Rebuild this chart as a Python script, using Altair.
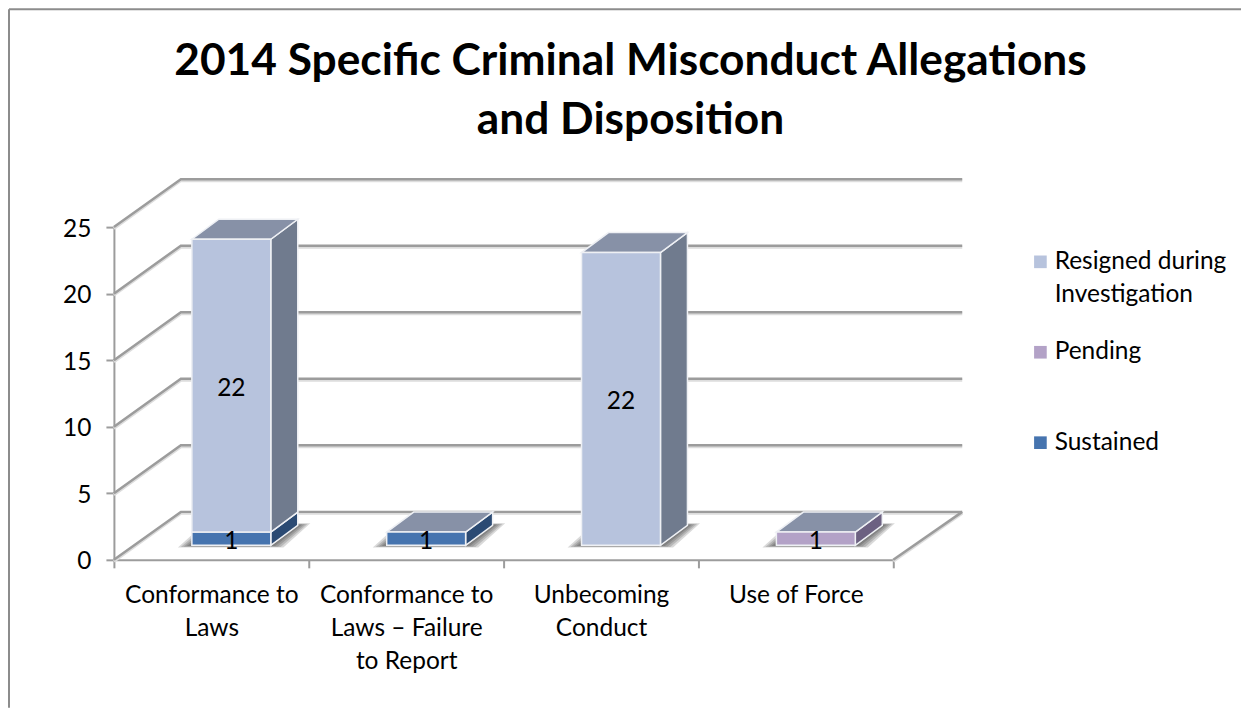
import json
import altair as alt
import pandas as pd

categories = ["Conformance to Laws", "Conformance to Laws – Failure to Report", "Unbecoming Conduct", "Use of Force"]
category_lines = [["Conformance to", "Laws"], ["Conformance to", "Laws – Failure", "to Report"], ["Unbecoming", "Conduct"], ["Use of Force"], [""]]
series_names = ["Resigned during Investigation", "Pending", "Sustained"]
sustained = [1, 1, 0, 0]
pending = [0, 0, 0, 1]
resigned = [22, 0, 22, 0]
y_ticks = [0, 5, 10, 15, 20, 25]
title_lines = ["2014 Specific Criminal Misconduct Allegations", "and Disposition"]

FONT = "Lato"
FS = 24.5
LINE = "#9c9c9c"
UX, UY = 195.0, 13.32            # pixels per category / per value unit
WALL_X, WALL_Y = 67 / UX, 48 / UY  # depth of the chart box
WALL_R = 69 / UX
DEP_X, DEP_Y = 27 / UX, 20 / UY    # depth of a bar
BAR_W = 79 / UX
BAR_X0 = (192 - 114) / UX
BAR_Y0 = 14.5 / UY

front_colors = {"Resigned during Investigation": "#b7c3dd", "Pending": "#b3a2c7", "Sustained": "#4674af"}
side_colors = {"Resigned during Investigation": "#707b8e", "Pending": "#6c6181", "Sustained": "#2b4a73"}
top_color = "#8791a7"

# stack order, bottom first
stack = [("Sustained", sustained), ("Pending", pending), ("Resigned during Investigation", resigned)]


def para(face, x, w, dx, y, dy):
    """Parallelogram leaning to the right, as an area over x."""
    return [
        dict(face=face, x=x, y=y, y2=y),
        dict(face=face, x=x + dx, y=y, y2=y + dy),
        dict(face=face, x=x + w, y=y, y2=y + dy),
        dict(face=face, x=x + w + dx, y=y + dy, y2=y + dy),
    ]


fronts, sides, tops, labels, shadows = [], [], [], [], []
for i in range(len(categories)):
    x = i + BAR_X0
    base = BAR_Y0
    for name, values in stack:
        v = values[i]
        if v == 0:
            continue
        fronts.append(dict(series=name, x=x, x2=x + BAR_W, y=base, y2=base + v))
        for px, py in ((x + BAR_W, base), (x + BAR_W + DEP_X, base + DEP_Y)):
            sides.append(dict(series=name, face=f"{i}-{name}", x=px, y=py, y2=py + v))
        labels.append(dict(x=x + BAR_W / 2, y=base + v / 2, value=v))
        base += v
    tops += para(str(i), x, BAR_W, DEP_X, base, DEP_Y)
    for k, grow in enumerate((14, 11, 8, 5, 2)):
        gx, gy = grow / UX, grow * 0.15 / UY
        shadows += para(f"{i}-{k}", x - gx, BAR_W + 1.9 * gx, DEP_X, BAR_Y0 - gy, DEP_Y + 2 * gy)

walls = []
for v in y_ticks:
    walls += [dict(g=v, o=0, x=0, y=v), dict(g=v, o=1, x=WALL_X, y=v + WALL_Y), dict(g=v, o=2, x=4 + WALL_R, y=v + WALL_Y)]
walls += [dict(g=-1, o=0, x=4, y=0), dict(g=-1, o=1, x=4 + WALL_R, y=WALL_Y)]

XN = alt.X("x:Q", scale=alt.Scale(domain=[0, 4], nice=False, zero=False), title=None,
           axis=alt.Axis(values=[0, 1, 2, 3, 4], grid=False, labelExpr=f"{json.dumps(category_lines)}[datum.value]",
                         labelOffset=UX / 2, labelFont=FONT, labelFontSize=FS, labelColor="black", labelPadding=16,
                         labelLineHeight=33, labelBaseline="top", labelOverlap=False, labelBound=False, labelFlush=False,
                         tickColor=LINE, tickWidth=2, tickSize=8, domainColor=LINE, domainWidth=2))
YN = alt.Y("y:Q", scale=alt.Scale(domain=[0, 25], nice=False, zero=False), title=None,
           axis=alt.Axis(values=y_ticks, grid=False, labelFont=FONT, labelFontSize=FS, labelColor="black", labelPadding=15,
                         labelOffset=2, tickColor=LINE, tickWidth=2, tickSize=8, domainColor=LINE, domainWidth=2))

wall_df = alt.Data(values=walls)
wall_shadow = alt.Chart(wall_df).mark_line(color="#dddddd", strokeWidth=3, yOffset=1.5).encode(x=XN, y=YN, detail="g:N", order="o:Q")
wall = alt.Chart(wall_df).mark_line(color=LINE, strokeWidth=2.5).encode(x=XN, y=YN, detail="g:N", order="o:Q")

shadow = alt.Chart(alt.Data(values=shadows)).mark_area(color="black", opacity=0.15, interpolate="linear").encode(
    x=XN, y=YN, y2="y2:Q", detail="face:N")

side_layers = [
    alt.Chart(alt.Data(values=[r for r in sides if r["series"] == name])).mark_area(
        color=side_colors[name], stroke="#eef0f4", strokeWidth=1.5).encode(x=XN, y=YN, y2="y2:Q", detail="face:N")
    for name, _ in stack if any(r["series"] == name for r in sides)
]
top = alt.Chart(alt.Data(values=tops)).mark_area(color=top_color, stroke="#eef0f4", strokeWidth=1.5).encode(
    x=XN, y=YN, y2="y2:Q", detail="face:N")

legend = alt.Legend(title=None, orient="none", legendX=915, legendY=22.5, symbolType="square", symbolSize=160,
                    symbolStrokeWidth=0, labelFont=FONT, labelFontSize=FS, labelColor="black", rowPadding=32.5,
                    gridAlign="all", labelOffset=2, labelLimit=300, symbolOpacity=1,
                    labelExpr="datum.label == 'Resigned during Investigation' ? ['Resigned during', 'Investigation'] : datum.label")
front = alt.Chart(alt.Data(values=fronts)).mark_rect(stroke="#eef0f4", strokeWidth=1.5).encode(
    x=XN, x2="x2:Q", y=YN, y2="y2:Q",
    fill=alt.Fill("series:N", scale=alt.Scale(domain=series_names, range=[front_colors[s] for s in series_names]), legend=legend))
text = alt.Chart(alt.Data(values=labels)).mark_text(font=FONT, fontSize=FS, color="black", dy=3).encode(x=XN, y=YN, text="value:Q")

BORDER = "#8c8c8c"
LEFT, RIGHT = -105 / UX, (1242 - 114) / UX
TOP, BOTTOM = (560 - 9) / UY, (560 - 708) / UY
border_top = alt.Chart(alt.Data(values=[dict(x=LEFT, x2=RIGHT, y=TOP)])).mark_rule(color=BORDER, strokeWidth=2).encode(x=XN, x2="x2:Q", y=YN)
border_left = alt.Chart(alt.Data(values=[dict(x=LEFT, y=TOP, y2=BOTTOM)])).mark_rule(color=BORDER, strokeWidth=2).encode(x=XN, y=YN, y2="y2:Q")

chart = alt.layer(border_top, border_left, wall_shadow, wall, shadow, *side_layers, top, front, text).properties(
    width=780, height=333,
    padding=0,
    title=alt.TitleParams(title_lines, font=FONT, fontSize=44.3, fontWeight="bold", color="black", lineHeight=59,
                          anchor="middle", dx=127, offset=-135),
).configure(background="white", style={"guide-label": {"lineHeight": 33}}, view=alt.ViewConfig(stroke=None))

chart.save("out.html", embed_options={"renderer": "svg", "actions": False})
